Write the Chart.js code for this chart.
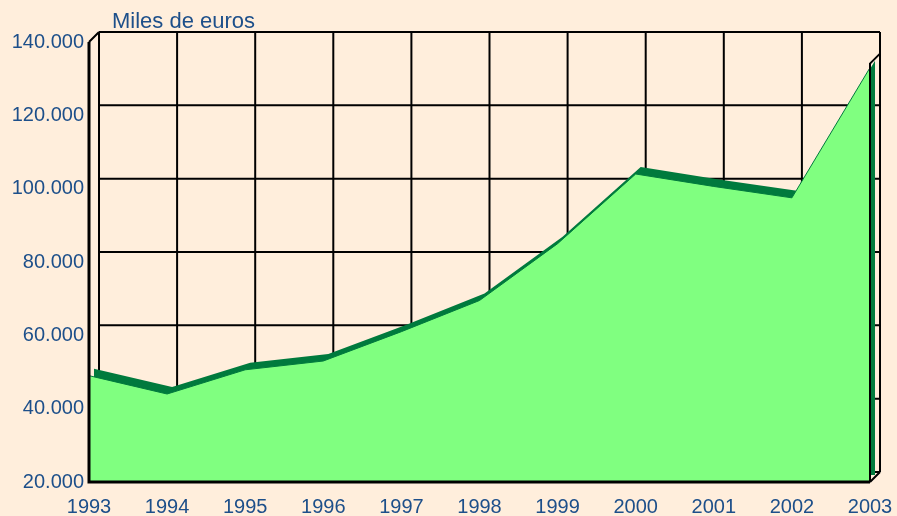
<!DOCTYPE html>
<html><head><meta charset="utf-8">
<style>html,body{margin:0;padding:0;background:#FFEEDC;}canvas{display:block;}</style>
<script src="https://cdn.jsdelivr.net/npm/chart.js@4/dist/chart.umd.min.js"></script>
</head><body>
<canvas id="c" width="897" height="516"></canvas>
<script>
// ---- data ----
const years = ['1993','1994','1995','1996','1997','1998','1999','2000','2001','2002','2003'];
const values = [49000, 44000, 50600, 53000, 61000, 69500, 85000, 104000, 100600, 97500, 133000];
const yMin = 20000, yMax = 140000, yStep = 20000;
const unitLabel = 'Miles de euros';

// ---- style ----
const WALL = {dx: 10, dy: 10};   // depth of the back wall
const SLAB = {dx: 5, dy: 7};     // depth of the area slab
const TEXT = '#1D4F8A', BG = '#FFEEDC', FRONT = '#80FF80', TOP = '#007A3D';
const FONT = '"Liberation Sans", Arial, sans-serif';

function fmt(v){ return String(v).replace(/\B(?=(\d{3})+(?!\d))/g, '.'); }
function setH(sc, l, r){ sc.left = l; sc.right = r; sc.width = r - l; sc.configure(); }
function setV(sc, t, b){ sc.top = t; sc.bottom = b; sc.height = b - t; sc.configure(); }

const box3d = {
  id: 'box3d',
  beforeDraw(chart){
    const ctx = chart.ctx; ctx.save(); ctx.fillStyle = BG; ctx.fillRect(0, 0, chart.width, chart.height); ctx.restore();
  },
  afterLayout(chart){
    const a = chart.chartArea, s = chart.scales;
    const fl = a.left, fr = a.right - WALL.dx, ft = a.top + WALL.dy, fb = a.bottom;
    setH(s.x, fl, fr); setV(s.y, ft, fb);
    setH(s.xb, fl + SLAB.dx, fr + SLAB.dx); setV(s.yb, ft - SLAB.dy, fb - SLAB.dy);
  },
  beforeDatasetsDraw(chart){
    const ctx = chart.ctx, x = chart.scales.x, y = chart.scales.y;
    ctx.save();
    ctx.translate(WALL.dx, -WALL.dy);
    ctx.strokeStyle = '#000'; ctx.lineWidth = 2;
    ctx.beginPath();
    years.forEach((_, i) => { const px = x.getPixelForValue(i); ctx.moveTo(px, y.top); ctx.lineTo(px, y.bottom); });
    y.ticks.forEach(t => { const py = y.getPixelForValue(t.value); ctx.moveTo(x.left, py); ctx.lineTo(x.right, py); });
    ctx.stroke();
    ctx.restore();
  },
  afterDatasetsDraw(chart){
    const ctx = chart.ctx, x = chart.scales.x, y = chart.scales.y;
    const L = x.left, R = x.right, T = y.top, B = y.bottom;
    const yLast = y.getPixelForValue(values[values.length - 1]) - 4;
    ctx.save();
    ctx.strokeStyle = '#000';
    ctx.lineWidth = 3;
    ctx.beginPath(); ctx.moveTo(L, T); ctx.lineTo(L, B); ctx.lineTo(R, B); ctx.stroke();
    ctx.lineWidth = 2;
    ctx.beginPath();
    ctx.moveTo(L, T); ctx.lineTo(L + WALL.dx, T - WALL.dy);
    ctx.moveTo(R, B); ctx.lineTo(R + WALL.dx, B - WALL.dy);
    ctx.moveTo(R, B); ctx.lineTo(R, yLast); ctx.lineTo(R + WALL.dx, yLast - WALL.dy);
    ctx.stroke();
    ctx.restore();
  },
  afterDraw(chart){
    const ctx = chart.ctx, a = chart.chartArea;
    ctx.save();
    ctx.font = '22px ' + FONT; ctx.fillStyle = TEXT; ctx.textBaseline = 'alphabetic'; ctx.textAlign = 'left';
    ctx.fillText(unitLabel, a.left + WALL.dx + 13, a.top - 4);
    ctx.restore();
  }
};

new Chart(document.getElementById('c'), {
  type: 'line',
  data: {
    labels: years,
    datasets: [
      {label: 'front', data: values, xAxisID: 'x', yAxisID: 'y', fill: 'start', backgroundColor: FRONT,
       borderColor: TOP, borderWidth: 1, pointRadius: 0, tension: 0},
      {label: 'top', data: values, xAxisID: 'xb', yAxisID: 'yb', fill: 'start', backgroundColor: TOP,
       borderColor: TOP, borderWidth: 0, pointRadius: 0, tension: 0}
    ]
  },
  options: {
    responsive: false, animation: false, devicePixelRatio: 1,
    layout: {padding: {left: 0, top: 32, right: 17, bottom: 0}},
    plugins: {legend: {display: false}, tooltip: {enabled: false}, title: {display: false}},
    scales: {
      x: {type: 'category', offset: false,
          grid: {display: false, drawTicks: false}, border: {display: false},
          ticks: {autoSkip: false, maxRotation: 0, minRotation: 0, padding: 13, color: TEXT, font: {family: FONT, size: 20}},
          afterFit(s){ s.height = 34; s.paddingLeft = 0; s.paddingRight = 0; }},
      y: {type: 'linear', min: yMin, max: yMax,
          grid: {display: false, drawTicks: false}, border: {display: false},
          ticks: {stepSize: yStep, padding: 5, color: TEXT, font: {family: FONT, size: 20}, callback: v => fmt(v)},
          afterFit(s){ s.width = 89; s.paddingTop = 0; s.paddingBottom = 0; }},
      xb: {type: 'category', display: false, offset: false},
      yb: {type: 'linear', display: false, min: yMin, max: yMax}
    }
  },
  plugins: [box3d]
});
</script>
</body></html>
